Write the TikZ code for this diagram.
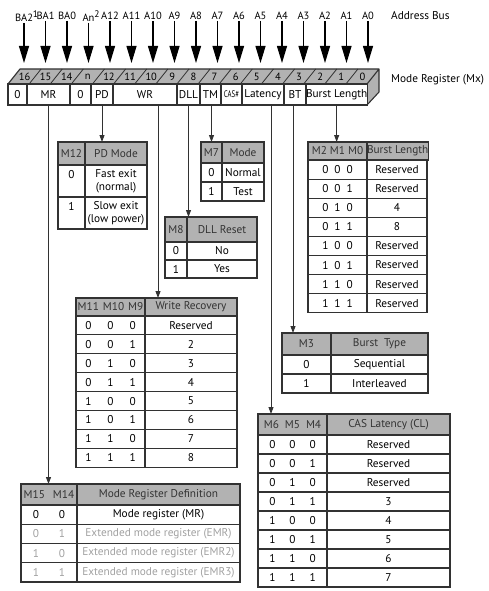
\documentclass[tikz,border=0pt]{standalone}
\usepackage{fontspec}
\setmainfont{PT Sans}
\usetikzlibrary{arrows.meta}
\definecolor{hdrgray}{RGB}{178,178,178}
\definecolor{edgegray}{RGB}{50,50,50}
\definecolor{fadegray}{RGB}{160,160,160}
\newcommand{\casfont}{\fontsize{9.5}{10}\selectfont}
\newcommand{\supnum}[1]{\rlap{\raisebox{4.5pt}{\fontsize{9.5}{10}\selectfont #1}}}

\begin{document}
\begin{tikzpicture}[x=1pt,y=-1pt,font=\fontsize{11.3}{13}\selectfont,
    cell/.style={draw=edgegray,line width=1.1pt,inner sep=0pt,outer sep=0pt,anchor=north west,align=center},
    hdr/.style={cell,fill=hdrgray,text=black!80},
    regcell/.style={cell,minimum height=21pt,fill=white},
    busarrow/.style={-{Triangle[length=17pt,width=10pt]},line width=1.1pt},
    feed/.style={-{Triangle[length=7pt,width=5pt]},line width=0.9pt,draw=edgegray}]
  \useasboundingbox (0,0) rectangle (489,591);

  % address bus
  \coordinate (tip) at (0,63);
  \foreach \t [count=\k from 0] in {BA2\supnum{1},BA1,BA0,An\supnum{2},A12,A11,A10,A9,A8,A7,A6,A5,A4,A3,A2,A1,A0} {
    \node[inner sep=1pt,font=\fontsize{10.5}{12}\selectfont] (a\k) at ({24+21.5*\k},16) {\t};
    \draw[busarrow] (a\k.south) -- (a\k.south |- tip);
  }
  \node[anchor=west,inner sep=0pt] (abus) at (391,16) {Address Bus};

  % mode register
  \fill[hdrgray] (8,84) -- (20,69) -- (379,69) -- (367,84) -- cycle;
  \fill[hdrgray] (367,84) -- (379,69) -- (379,92) -- (367,105) -- cycle;
  \draw[edgegray,line width=1.1pt,line join=round] (8,84) -- (20,69) -- (379,69) -- (379,92) -- (367,105) (379,69) -- (367,84);
  \foreach \k in {1,...,16}
    \draw[edgegray,line width=0.8pt] ({8+21.12*\k},84) -- ++(12,-15);
  \foreach \t [count=\k from 0] in {16,15,14,n,12,11,10,9,8,7,6,5,4,3,2,1,0}
    \node[inner sep=0pt,font=\fontsize{10.5}{12}\selectfont] (n\k) at ({24.5+21.12*\k},77) {\t};
  \foreach \n/\xa/\xb/\t in {z1/8/27/0,mr/27/70/MR,z2/70/91/0,pd/91/113/PD,wr/113/177/WR,dll/177/200/DLL,tm/200/221/TM,cas/221/242/{\casfont\scalebox{0.72}[1]{CAS\#}},lat/242/284/Latency,bt/284/306/BT,blen/306/367/Burst Length}
    \node[regcell,minimum width={(\xb-\xa)*1pt}] (\n) at (\xa,84) {\t};
  \node[anchor=west,inner sep=0pt] (mreg) at (391,80) {Mode Register (Mx)};

  % M12
  \node[hdr,minimum width=27pt,minimum height=23pt] (pdh1) at (58,142) {M12};
  \node[hdr,minimum width=62pt,minimum height=23pt] (pdh2) at (85,142) {PD Mode};
  \foreach \v/\t [count=\i from 0] in {0/{Fast exit\\(normal)},1/{Slow exit\\(low power)}} {
    \node[cell,minimum width=27pt,minimum height=32pt] (pda\i) at (58,{165+32*\i}) {\v\\\phantom{0}};
    \node[cell,minimum width=62pt,minimum height=32pt] (pdb\i) at (85,{165+32*\i}) {\t};
  }

  % M7
  \node[hdr,minimum width=21pt,minimum height=21pt] (m7h1) at (201,142) {M7};
  \node[hdr,minimum width=42pt,minimum height=21pt] (m7h2) at (222,142) {Mode};
  \foreach \v/\t [count=\i from 0] in {0/Normal,1/Test} {
    \node[cell,minimum width=21pt,minimum height=19pt] (m7a\i) at (201,{163+19*\i}) {\v};
    \node[cell,minimum width=42pt,minimum height=19pt] (m7b\i) at (222,{163+19*\i}) {\t};
  }

  % M8
  \node[hdr,minimum width=22pt,minimum height=25pt] (m8h1) at (165,217) {M8};
  \node[hdr,minimum width=70pt,minimum height=25pt] (m8h2) at (187,217) {DLL Reset};
  \foreach \v/\t [count=\i from 0] in {0/No,1/Yes} {
    \node[cell,minimum width=22pt,minimum height=18pt] (m8a\i) at (165,{242+18*\i}) {\v};
    \node[cell,minimum width=70pt,minimum height=18pt] (m8b\i) at (187,{242+18*\i}) {\t};
  }

  % burst length
  \node[hdr,minimum width=59pt,minimum height=18pt] (blh1) at (308,142) {M2 M1 M0};
  \node[hdr,minimum width=60pt,minimum height=18pt] (blh2) at (367,142) {Burst Length};
  \foreach \a/\b/\c/\v [count=\i from 0] in {0/0/0/Reserved,0/0/1/Reserved,0/1/0/4,0/1/1/8,1/0/0/Reserved,1/0/1/Reserved,1/1/0/Reserved,1/1/1/Reserved} {
    \node[cell,minimum width=59pt,minimum height=19.1pt] (bla\i) at (308,{160+19.1*\i}) {\a\hspace{6pt}\b\hspace{6pt}\c};
    \node[cell,minimum width=60pt,minimum height=19.1pt] (blb\i) at (367,{160+19.1*\i}) {\v};
  }

  % write recovery
  \node[hdr,minimum width=69pt,minimum height=18pt] (wrh1) at (76,298) {M11\hspace{4pt}M10\hspace{4pt}M9};
  \node[hdr,minimum width=92pt,minimum height=18pt] (wrh2) at (145,298) {Write Recovery};
  \foreach \a/\b/\c/\v [count=\i from 0] in {0/0/0/Reserved,0/0/1/2,0/1/0/3,0/1/1/4,1/0/0/5,1/0/1/6,1/1/0/7,1/1/1/8} {
    \node[cell,minimum width=69pt,minimum height=18.9pt] (wra\i) at (76,{316+18.9*\i}) {\a\hspace{16pt}\b\hspace{16pt}\c};
    \node[cell,minimum width=92pt,minimum height=18.9pt] (wrb\i) at (145,{316+18.9*\i}) {\v};
  }

  % burst type
  \node[hdr,minimum width=49pt,minimum height=22pt] (bth1) at (282,333) {M3};
  \node[hdr,minimum width=97pt,minimum height=22pt] (bth2) at (331,333) {Burst\hspace{6pt}Type};
  \foreach \v/\t [count=\i from 0] in {0/Sequential,1/Interleaved} {
    \node[cell,minimum width=49pt,minimum height=19pt] (bta\i) at (282,{355+19*\i}) {\v};
    \node[cell,minimum width=97pt,minimum height=19pt] (btb\i) at (331,{355+19*\i}) {\t};
  }

  % CAS latency
  \node[hdr,minimum width=69pt,minimum height=21pt] (clh1) at (258,414) {M6\hspace{6pt}M5\hspace{6pt}M4};
  \node[hdr,minimum width=123pt,minimum height=21pt] (clh2) at (327,414) {CAS Latency (CL)};
  \foreach \a/\b/\c/\v [count=\i from 0] in {0/0/0/Reserved,0/0/1/Reserved,0/1/0/Reserved,0/1/1/3,1/0/0/4,1/0/1/5,1/1/0/6,1/1/1/7} {
    \node[cell,minimum width=69pt,minimum height=19pt] (cla\i) at (258,{435+19*\i}) {\a\hspace{14pt}\b\hspace{14pt}\c};
    \node[cell,minimum width=123pt,minimum height=19pt] (clb\i) at (327,{435+19*\i}) {\v};
  }

  % mode register definition
  \node[hdr,minimum width=56pt,minimum height=21pt] (mdh1) at (21,484) {M15\hspace{8pt}M14};
  \node[hdr,minimum width=163pt,minimum height=21pt] (mdh2) at (77,484) {Mode Register Definition};
  \foreach \a/\b/\v/\c [count=\i from 0] in {0/0/Mode register (MR)/black,0/1/Extended mode register (EMR)/fadegray,1/0/Extended mode register (EMR2)/fadegray,1/1/Extended mode register (EMR3)/fadegray} {
    \node[cell,minimum width=56pt,minimum height=19.25pt,text=\c] (mda\i) at (21,{505+19.25*\i}) {\a\hspace{20pt}\b};
    \node[cell,minimum width=163pt,minimum height=19.25pt,text=\c] (mdb\i) at (77,{505+19.25*\i}) {\v};
  }

  % feeds from the register fields
  \draw[feed] (mr.south) -- (mr.south |- mdh1.north);
  \draw[feed] (pd.south) -- (pd.south |- pdh1.north);
  \draw[feed] ([xshift=13pt]wr.south) -- ([xshift=13pt]wr.south |- wrh1.north);
  \draw[feed] (dll.south) -- (dll.south |- m8h1.north);
  \draw[feed] ([xshift=1pt]tm.south) -- ([xshift=1pt]tm.south |- m7h1.north);
  \draw[feed] ([xshift=8pt]lat.south) -- ([xshift=8pt]lat.south |- clh1.north);
  \draw[feed] ([xshift=-2pt]bt.south) -- ([xshift=-2pt]bt.south |- bth1.north);
  \draw[feed] (blen.south) -- (blen.south |- blh1.north);
\end{tikzpicture}
\end{document}
